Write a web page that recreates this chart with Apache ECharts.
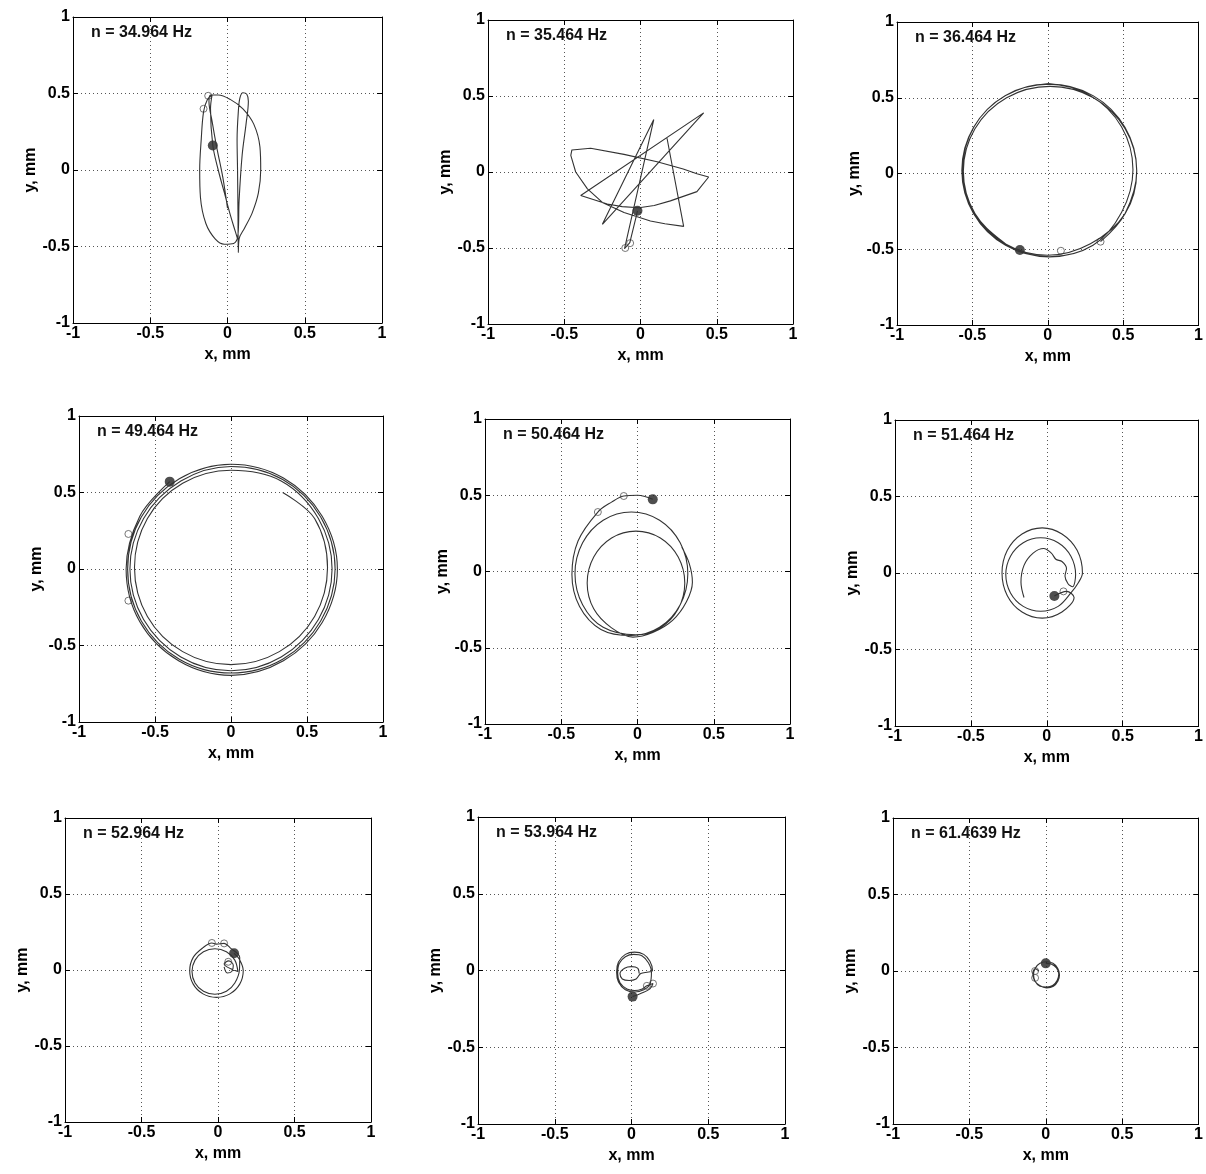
<!DOCTYPE html>
<html><head><meta charset="utf-8">
<script src="https://cdn.jsdelivr.net/npm/echarts/dist/echarts.min.js"></script>
<style>html,body{margin:0;padding:0;background:#fff}#c{width:1206px;height:1174px}</style>
</head><body><div id="c"></div>
<script>
// ---------- data ----------
const freqLabels = ['n = 34.964 Hz','n = 35.464 Hz','n = 36.464 Hz','n = 49.464 Hz','n = 50.464 Hz','n = 51.464 Hz','n = 52.964 Hz','n = 53.964 Hz','n = 61.4639 Hz'];
const tickValues = [-1,-0.5,0,0.5,1];
const xName = 'x, mm';
const yName = 'y, mm';

const orbit1 = [[0.0,-0.25],[-0.03,-0.05],[-0.07,0.15],[-0.10,0.32],[-0.12,0.45],[-0.11,0.49],[-0.06,0.49],[0.02,0.46],[0.10,0.40],[0.17,0.30],[0.21,0.15],[0.215,0.0],[0.20,-0.15],[0.16,-0.28],[0.11,-0.38],[0.075,-0.45],[0.07,-0.54],[0.068,-0.30],[0.065,0.0],[0.062,0.2],[0.07,0.38],[0.08,0.47],[0.10,0.505],[0.125,0.495],[0.135,0.45],[0.12,0.30],[0.095,0.10],[0.075,-0.20],[0.068,-0.42],[0.04,-0.48],[-0.02,-0.485],[-0.08,-0.45],[-0.14,-0.35],[-0.175,-0.18],[-0.18,0.0],[-0.17,0.2],[-0.155,0.38],[-0.13,0.46],[-0.10,0.49],[-0.11,0.40],[-0.095,0.16],[-0.06,0.0],[-0.02,-0.15],[0.02,-0.30],[0.05,-0.40],[0.065,-0.45]];
const open1 = [[-0.155,0.40],[-0.125,0.485]];
const dot1 = [[-0.095,0.16]];

const orbit2 = [[0.174,0.222],[0.283,-0.358],[0.16,-0.34],[0.065,-0.322],[-0.108,-0.267],[-0.25,-0.2],[-0.348,-0.111],[-0.425,0.0],[-0.457,0.11],[-0.45,0.145],[-0.327,0.156],[-0.108,0.116],[0.109,0.067],[0.28,0.02],[0.37,-0.011],[0.447,-0.033],[0.37,-0.129],[0.196,-0.19],[0.09,-0.22],[-0.01,-0.235],[-0.12,-0.228],[-0.218,-0.211],[-0.392,-0.155],[0.414,0.389],[-0.25,-0.344],[0.087,0.345],[-0.105,-0.505],[-0.07,-0.465],[-0.03,-0.3],[-0.02,-0.255]];
const open2 = [[-0.1,-0.5],[-0.068,-0.468]];
const dot2 = [[-0.02,-0.255]];

const orbit3 = [[0.35,-0.45],[0.512,-0.265],[0.59,0.02],[0.512,0.305],[0.30,0.514],[0.01,0.59],[-0.28,0.514],[-0.492,0.305],[-0.57,0.02],[-0.492,-0.265],[-0.28,-0.474],[0.01,-0.55],[0.30,-0.474],[0.489,-0.258],[0.565,0.025],[0.489,0.308],[0.283,0.514],[0.0,0.59],[-0.283,0.514],[-0.489,0.308],[-0.565,0.025],[-0.489,-0.258],[-0.283,-0.464],[0.0,-0.54],[0.283,-0.464],[0.513,-0.265],[0.59,0.015],[0.513,0.295],[0.303,0.5],[0.015,0.575],[-0.273,0.5],[-0.483,0.295],[-0.56,0.015],[-0.483,-0.265],[-0.273,-0.47],[-0.185,-0.505]];
const open3 = [[0.087,-0.51],[0.35,-0.45]];
const dot3 = [[-0.185,-0.505]];

const orbit4 = [[0.34,0.50],[0.55,0.33],[0.635,0.01],[0.55,-0.31],[0.318,-0.54],[0.0,-0.625],[-0.318,-0.54],[-0.55,-0.31],[-0.635,0.01],[-0.55,0.33],[-0.318,0.56],[0.0,0.645],[0.33,0.575],[0.575,0.33],[0.665,0.0],[0.575,-0.33],[0.33,-0.575],[0.0,-0.665],[-0.33,-0.575],[-0.575,-0.33],[-0.665,0.0],[-0.575,0.33],[-0.33,0.575],[0.0,0.67],[0.34,0.585],[0.59,0.34],[0.685,0.0],[0.59,-0.34],[0.34,-0.59],[0.0,-0.68],[-0.34,-0.59],[-0.59,-0.34],[-0.68,0.0],[-0.59,0.34],[-0.34,0.59],[0.0,0.685],[0.345,0.595],[0.6,0.345],[0.7,0.0],[0.6,-0.35],[0.345,-0.6],[0.0,-0.695],[-0.345,-0.6],[-0.6,-0.345],[-0.69,0.0],[-0.6,0.345],[-0.403,0.571]];
const open4 = [[-0.675,0.229],[-0.675,-0.207]];
const dot4 = [[-0.403,0.571]];

const orbit5 = [[0.29,0.16],[0.34,0.05],[0.36,-0.07],[0.32,-0.2],[0.23,-0.32],[0.1,-0.4],[-0.03,-0.43],[-0.17,-0.37],[-0.287,-0.245],[-0.33,-0.075],[-0.287,0.095],[-0.17,0.22],[-0.01,0.265],[0.15,0.22],[0.267,0.095],[0.31,-0.075],[0.267,-0.245],[0.15,-0.37],[-0.01,-0.415],[-0.225,-0.366],[-0.36,-0.218],[-0.41,-0.015],[-0.36,0.188],[-0.225,0.336],[-0.04,0.39],[0.145,0.336],[0.28,0.188],[0.33,-0.015],[0.28,-0.218],[0.145,-0.366],[-0.04,-0.42],[-0.24,-0.38],[-0.38,-0.23],[-0.43,-0.02],[-0.39,0.2],[-0.26,0.39],[-0.17,0.455],[-0.09,0.495],[0.0,0.5],[0.1,0.473]];
const open5 = [[-0.26,0.39],[-0.09,0.495]];
const dot5 = [[0.1,0.473]];

const orbit6 = [[-0.15,-0.16],[-0.17,-0.06],[-0.15,0.05],[-0.09,0.13],[-0.02,0.16],[0.03,0.13],[0.06,0.09],[0.1,0.075],[0.13,0.03],[0.12,-0.02],[0.14,-0.07],[0.17,-0.09],[0.19,-0.01],[0.159,0.11],[0.075,0.198],[-0.04,0.23],[-0.155,0.198],[-0.239,0.11],[-0.27,-0.01],[-0.239,-0.13],[-0.155,-0.218],[-0.04,-0.25],[0.075,-0.218],[0.159,-0.13],[0.21,-0.06],[0.235,0.0],[0.2,0.148],[0.1,0.255],[-0.03,0.295],[-0.163,0.255],[-0.26,0.148],[-0.295,0.0],[-0.26,-0.148],[-0.163,-0.255],[-0.03,-0.295],[0.1,-0.255],[0.18,-0.16],[0.13,-0.12],[0.05,-0.15]];
const open6 = [[0.11,-0.12]];
const dot6 = [[0.05,-0.15]];

const orbit7 = [[0.04,0.02],[0.06,-0.02],[0.09,-0.01],[0.1,0.03],[0.07,0.06],[0.04,0.04],[0.13,-0.01],[0.11,0.065],[0.055,0.12],[-0.02,0.14],[-0.095,0.12],[-0.15,0.065],[-0.17,-0.01],[-0.15,-0.085],[-0.095,-0.14],[-0.02,-0.16],[0.055,-0.14],[0.11,-0.085],[0.14,0.0],[0.142,0.083],[0.078,0.147],[0.04,0.175],[-0.01,0.17],[-0.04,0.178],[-0.098,0.147],[-0.162,0.083],[-0.185,-0.005],[-0.162,-0.093],[-0.098,-0.157],[-0.01,-0.18],[0.078,-0.157],[0.142,-0.093],[0.165,-0.005],[0.14,0.07],[0.105,0.11]];
const open7 = [[-0.04,0.178],[0.04,0.175],[0.067,0.054]];
const dot7 = [[0.105,0.11]];

const orbit8 = [[0.05,-0.02],[0.04,0.015],[0.0,0.025],[-0.045,0.015],[-0.075,-0.02],[-0.06,-0.055],[-0.015,-0.065],[0.03,-0.055],[0.06,-0.02],[0.11,-0.01],[0.137,0.0],[0.12,0.06],[0.08,0.105],[0.02,0.12],[-0.04,0.105],[-0.085,0.055],[-0.097,-0.01],[-0.085,-0.075],[-0.04,-0.125],[0.02,-0.14],[0.08,-0.125],[0.12,-0.09],[0.13,-0.01],[0.11,0.05],[0.07,0.095],[0.015,0.105],[-0.04,0.09],[-0.08,0.045],[-0.09,-0.02],[-0.075,-0.08],[-0.03,-0.12],[0.02,-0.13],[0.07,-0.12],[0.1,-0.1],[0.14,-0.085],[0.12,-0.12],[0.06,-0.15],[0.007,-0.17]];
const open8 = [[0.1,-0.1],[0.14,-0.085]];
const dot8 = [[0.007,-0.17]];

const orbit9 = [[-0.045,0.0],[-0.07,0.015],[-0.085,-0.015],[-0.075,-0.06],[-0.04,-0.095],[0.005,-0.11],[0.05,-0.1],[0.08,-0.065],[0.09,-0.025],[0.078,0.018],[0.047,0.05],[0.005,0.06],[-0.038,0.05],[-0.069,0.018],[-0.08,-0.025],[-0.069,-0.068],[-0.038,-0.1],[0.005,-0.105],[0.045,-0.095],[0.075,-0.06],[0.085,-0.02],[0.07,0.02],[0.035,0.045],[0.0,0.05]];
const open9 = [[-0.07,0.0],[-0.07,-0.045]];
const dot9 = [[0.0,0.05]];

const orbits = [orbit1,orbit2,orbit3,orbit4,orbit5,orbit6,orbit7,orbit8,orbit9];
const opens = [open1,open2,open3,open4,open5,open6,open7,open8,open9];
const dots = [dot1,dot2,dot3,dot4,dot5,dot6,dot7,dot8,dot9];

// ---------- layout (pixels) ----------
const boxes = [
  [73,17,309,306],[488,20,305,304],[897,22,307,303],
  [79,416,304,306],[485,419,305,305],[895,420,306,306],
  [65,818,306,304],[478,817,307,307],[893,818,306,306]
];
const FONT = '"Liberation Sans", Arial, sans-serif';

const grid = [], xAxis = [], yAxis = [], series = [], graphic = [];
boxes.forEach((b, i) => {
  grid.push({left: b[0], top: b[1], width: b[2], height: b[3], show: false});
  const common = {
    type: 'value', gridIndex: i,
    min: tickValues[0], max: tickValues[tickValues.length - 1], interval: 0.5,
    axisLine: {show: true, onZero: false, lineStyle: {color: '#000', width: 1}},
    axisTick: {show: true, inside: true, length: 5, lineStyle: {color: '#000'}},
  };
  xAxis.push(Object.assign({}, common, {
    position: 'bottom',
    axisLabel: {color: '#000', fontSize: 16, fontWeight: 'bold', fontFamily: FONT, margin: 3},
    splitLine: {show: true, lineStyle: {type: [1, 3], color: '#555', width: 1}},
    name: xName, nameLocation: 'middle', nameGap: 24,
    nameTextStyle: {color: '#000', fontSize: 16, fontWeight: 'bold', fontFamily: FONT}
  }));
  xAxis.push(Object.assign({}, common, {
    position: 'top', axisLabel: {show: false}, splitLine: {show: false}
  }));
  yAxis.push(Object.assign({}, common, {
    position: 'left',
    axisLabel: {color: '#000', fontSize: 16, fontWeight: 'bold', fontFamily: FONT, margin: 3},
    splitLine: {show: true, lineStyle: {type: [1, 3], color: '#555', width: 1}},
    name: yName, nameLocation: 'middle', nameGap: 33,
    nameTextStyle: {color: '#000', fontSize: 16, fontWeight: 'bold', fontFamily: FONT}
  }));
  yAxis.push(Object.assign({}, common, {
    position: 'right', axisLabel: {show: false}, splitLine: {show: false}
  }));
  series.push({
    type: 'line', xAxisIndex: 2 * i, yAxisIndex: 2 * i,
    data: orbits[i], showSymbol: false, smooth: i === 1 ? false : 0.35,
    lineStyle: {color: '#333', width: 1.1}, animation: false, silent: true
  });
  series.push({
    type: 'scatter', xAxisIndex: 2 * i, yAxisIndex: 2 * i,
    data: opens[i], symbol: 'circle', symbolSize: 7,
    itemStyle: {color: '#fff', borderColor: '#555', borderWidth: 1}, animation: false, silent: true
  });
  series.push({
    type: 'scatter', xAxisIndex: 2 * i, yAxisIndex: 2 * i,
    data: dots[i], symbol: 'circle', symbolSize: 10,
    itemStyle: {color: '#222'}, animation: false, silent: true
  });
  graphic.push({
    type: 'text', left: b[0] + 18, top: b[1] + 8,
    style: {text: freqLabels[i], font: 'bold 16px ' + FONT, fill: '#111'}
  });
});

const chart = echarts.init(document.getElementById('c'), null, {renderer: 'canvas'});
chart.setOption({
  backgroundColor: '#fff', animation: false,
  grid, xAxis, yAxis, series, graphic
});
</script>
</body></html>
